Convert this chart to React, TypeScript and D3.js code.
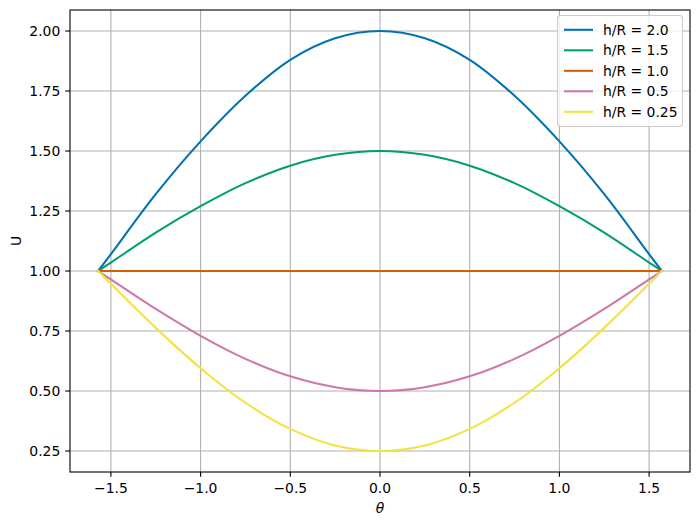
import React from "react";
import * as d3 from "d3";

const thetas = [-1.5708, -1.5, -1.25, -1.0, -0.75, -0.5, -0.25, 0, 0.25, 0.5, 0.75, 1.0, 1.25, 1.5, 1.5708];
const u20 = [1.0, 1.07, 1.32, 1.54, 1.73, 1.88, 1.97, 2.0, 1.97, 1.88, 1.73, 1.54, 1.32, 1.07, 1.0];
const u15 = [1.0, 1.035, 1.16, 1.27, 1.366, 1.439, 1.484, 1.5, 1.484, 1.439, 1.366, 1.27, 1.16, 1.035, 1.0];
const u10 = [1.0, 1.0, 1.0, 1.0, 1.0, 1.0, 1.0, 1.0, 1.0, 1.0, 1.0, 1.0, 1.0, 1.0, 1.0];
const u05 = [1.0, 0.965, 0.842, 0.73, 0.634, 0.561, 0.516, 0.5, 0.516, 0.561, 0.634, 0.73, 0.842, 0.965, 1.0];
const u025 = [1.0, 0.947, 0.763, 0.595, 0.451, 0.342, 0.273, 0.25, 0.273, 0.342, 0.451, 0.595, 0.763, 0.947, 1.0];

const seriesLabels = ["h/R = 2.0", "h/R = 1.5", "h/R = 1.0", "h/R = 0.5", "h/R = 0.25"];
const seriesValues = [u20, u15, u10, u05, u025];
const colors = ["#0072B2", "#009E73", "#D55E00", "#CC79A7", "#F0E442"];
const xTicks = [-1.5, -1.0, -0.5, 0.0, 0.5, 1.0, 1.5];
const yTicks = [0.25, 0.5, 0.75, 1.0, 1.25, 1.5, 1.75, 2.0];

const W = 700, H = 526;
const L = 70, R = 690, T = 10, B = 472;
const FS = 13.9;

export default function App() {
  const x = d3.scaleLinear().domain([-1.7279, 1.7279]).range([L, R]);
  const y = d3.scaleLinear().domain([0.1625, 2.0875]).range([B, T]);
  const line = d3.line<number>()
    .x((_, i) => x(thetas[i]))
    .y((d) => y(d))
    .curve(d3.curveCatmullRom.alpha(0.5));
  const font = "DejaVu Sans, sans-serif";
  return (
    <svg width={W} height={H} style={{ position: "absolute", left: 0, top: 0 }} fontFamily={font}>
      <rect x={0} y={0} width={W} height={H} fill="#fff" />
      {xTicks.map((t) => (
        <line key={"gx" + t} x1={x(t)} x2={x(t)} y1={T} y2={B} stroke="#b0b0b0" strokeWidth={1.1} />
      ))}
      {yTicks.map((t) => (
        <line key={"gy" + t} x1={L} x2={R} y1={y(t)} y2={y(t)} stroke="#b0b0b0" strokeWidth={1.1} />
      ))}
      {seriesValues.map((vals, i) => (
        <path key={i} d={line(vals) || ""} fill="none" stroke={colors[i]} strokeWidth={2.08} strokeLinecap="square" />
      ))}
      <rect x={L} y={T} width={R - L} height={B - T} fill="none" stroke="#000" strokeWidth={1.1} />
      {xTicks.map((t) => (
        <g key={"tx" + t}>
          <line x1={x(t)} x2={x(t)} y1={B} y2={B + 4.86} stroke="#000" strokeWidth={1.1} />
          <text x={x(t)} y={B + 20.7} textAnchor="middle" fontSize={FS} fill="#000">
            {t < 0 ? "\u2212" + Math.abs(t).toFixed(1) : t.toFixed(1)}
          </text>
        </g>
      ))}
      {yTicks.map((t) => (
        <g key={"ty" + t}>
          <line x1={L - 4.86} x2={L} y1={y(t)} y2={y(t)} stroke="#000" strokeWidth={1.1} />
          <text x={L - 9.7} y={y(t) + 5} textAnchor="end" fontSize={FS} fill="#000">
            {t.toFixed(2)}
          </text>
        </g>
      ))}
      <text x={(L + R) / 2} y={512.5} textAnchor="middle" fontSize={FS} fontStyle="italic" fill="#000">θ</text>
      <text transform={`translate(21, ${(T + B) / 2}) rotate(-90)`} textAnchor="middle" fontSize={FS} fill="#000">U</text>
      <g>
        <rect x={557.5} y={15.5} width={125} height={111} rx={3} fill="#fff" fillOpacity={0.8} stroke="#cccccc" strokeWidth={1.1} />
        {seriesLabels.map((lab, i) => (
          <g key={lab}>
            <line x1={564} x2={593} y1={29.8 + i * 20.5} y2={29.8 + i * 20.5} stroke={colors[i]} strokeWidth={2.08} />
            <text x={603} y={29.8 + i * 20.5 + 5} fontSize={FS} fill="#000">{lab}</text>
          </g>
        ))}
      </g>
    </svg>
  );
}
